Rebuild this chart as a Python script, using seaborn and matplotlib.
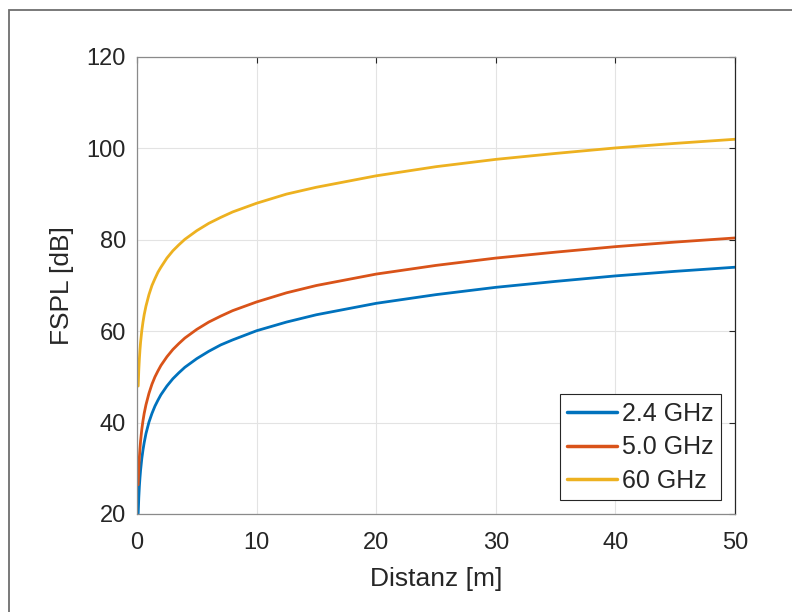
import matplotlib
matplotlib.use("Agg")
import matplotlib.pyplot as plt
import matplotlib.patches as mpatches
import seaborn as sns
import pandas as pd

# Distance samples [m] and free-space path loss [dB] per carrier frequency
distance = [0.1, 0.15, 0.2, 0.25, 0.3, 0.4, 0.5, 0.6, 0.75, 1, 1.25, 1.5, 1.75,
            2, 2.5, 3, 3.5, 4, 5, 6, 7, 8, 10, 12.5, 15, 20, 25, 30, 35, 40,
            45, 50]
fspl_2_4 = [20.1, 23.6, 26.1, 28.0, 29.6, 32.1, 34.0, 35.6, 37.6, 40.1, 42.0,
            43.6, 44.9, 46.1, 48.0, 49.6, 50.9, 52.1, 54.0, 55.6, 57.0, 58.1,
            60.1, 62.0, 63.6, 66.1, 68.0, 69.6, 70.9, 72.1, 73.1, 74.0]
fspl_5_0 = [26.4, 30.0, 32.5, 34.4, 36.0, 38.5, 40.4, 42.0, 43.9, 46.4, 48.4,
            50.0, 51.3, 52.5, 54.4, 56.0, 57.3, 58.5, 60.4, 62.0, 63.3, 64.5,
            66.4, 68.4, 70.0, 72.5, 74.4, 76.0, 77.3, 78.5, 79.5, 80.4]
fspl_60 = [48.0, 51.5, 54.0, 56.0, 57.6, 60.1, 62.0, 63.6, 65.5, 68.0, 70.0,
           71.5, 72.9, 74.0, 76.0, 77.6, 78.9, 80.1, 82.0, 83.6, 84.9, 86.1,
           88.0, 90.0, 91.5, 94.0, 96.0, 97.6, 98.9, 100.1, 101.1, 102.0]
series_labels = ["2.4 GHz", "5.0 GHz", "60 GHz"]
series_colors = ["#0072BD", "#D95319", "#EDB120"]

x_ticks = [0, 10, 20, 30, 40, 50]
y_ticks = [20, 40, 60, 80, 100, 120]

df = pd.concat([
    pd.DataFrame({"Distanz": distance, "FSPL": vals, "Frequenz": lab})
    for vals, lab in zip([fspl_2_4, fspl_5_0, fspl_60], series_labels)
])

sns.set_theme(style="white")
plt.rcParams["font.family"] = ["Liberation Sans", "DejaVu Sans"]

fig = plt.figure(figsize=(7.92, 6.12), dpi=100)
ax = fig.add_axes([137 / 792, 1 - 514 / 612, (735 - 137) / 792, (514 - 57) / 612])

sns.lineplot(data=df, x="Distanz", y="FSPL", hue="Frequenz",
             palette=dict(zip(series_labels, series_colors)),
             linewidth=2.0, ax=ax, estimator=None, sort=False)

ax.set_xlim(0, 50)
ax.set_ylim(20, 120)
ax.set_xticks(x_ticks)
ax.set_yticks(y_ticks)
ax.grid(True, color="#e3e3e3", linewidth=0.8)
ax.set_axisbelow(True)

for side, sp in ax.spines.items():
    sp.set_visible(True)
    sp.set_linewidth(0.9)
    sp.set_color("#262626" if side == "right" else "#8a8a8a")

ax.tick_params(axis="both", which="both", direction="in", length=4, width=0.8,
               color="#262626", top=True, right=True, labelsize=17,
               labelcolor="#262626")
ax.tick_params(axis="y", pad=8)
ax.tick_params(axis="x", pad=13)

ax.set_xlabel("Distanz [m]", fontsize=19, color="#262626", labelpad=9)
ax.set_ylabel("FSPL [dB]", fontsize=19, color="#262626", labelpad=9)

leg = ax.legend(loc="lower right", fontsize=18, frameon=True, fancybox=False,
                edgecolor="#262626", framealpha=1, handlelength=2.0,
                handletextpad=0.2, borderpad=0.3, labelspacing=0.38,
                borderaxespad=0.55)
leg.get_frame().set_linewidth(0.8)
for line in leg.get_lines():
    line.set_linewidth(2.5)
for txt in leg.get_texts():
    txt.set_color("#262626")

# Outer frame around the figure
frame = mpatches.Rectangle((9 / 792, -0.05), 1.1, 1 - 10 / 612 + 0.05,
                           transform=fig.transFigure, fill=False,
                           edgecolor="#6e6e6e", linewidth=1.3, clip_on=False)
fig.patches.append(frame)

fig.savefig("out.png", dpi=100)
